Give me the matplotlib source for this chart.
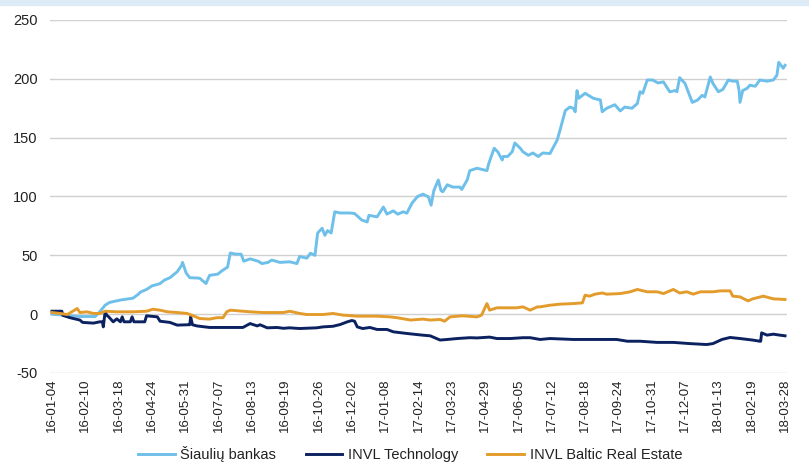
import numpy as np
import pandas as pd
import matplotlib
matplotlib.use("Agg")
import matplotlib.pyplot as plt

plt.rcParams['font.family'] = ['Liberation Sans', 'DejaVu Sans']
plt.rcParams['axes.unicode_minus'] = False

start_date = "2016-01-04"

# Šiaulių bankas: (day offset from start, % change)
sab_days = [0, 31, 48, 53, 59, 64, 76, 90, 96, 98, 105, 111, 120, 125, 131, 139, 144, 145, 149, 153,
            164, 171, 175, 184, 189, 195, 198, 204, 210, 213, 220, 229, 233, 240, 244, 253, 264, 272, 275, 283,
            287, 292, 295, 300, 303, 306, 310, 314, 320, 331, 336, 340, 344, 350, 352, 361, 368, 372, 379, 384,
            390, 394, 400, 406, 412, 418, 421, 424, 429, 432, 434, 439, 445, 453, 455, 461, 464, 472, 483, 485,
            491, 495, 500, 501, 506, 511, 514, 520, 523, 529, 534, 540, 545, 553, 561, 564, 570, 575, 579, 581,
            583, 585, 592, 601, 609, 611, 616, 625, 631, 636, 644, 650, 653, 656, 661, 667, 673, 679, 686, 692,
            694, 697, 703, 711, 717, 722, 725, 731, 734, 740, 745, 751, 756, 761, 763, 764, 767, 772, 775, 781,
            786, 794, 801, 805, 807, 812, 814]
sab_vals = [0, -2, -2, 2, 7.6, 10, 12, 13.6, 17, 18.7, 21, 24, 26, 29, 31, 36, 41.6, 44, 35, 31,
            30.6, 26, 33, 34, 37, 40, 52, 51, 51, 45, 47, 45, 43, 44, 46, 44, 44.5, 43, 49, 47.6,
            51.8, 50, 69, 73, 67, 71, 69, 87, 86, 86, 85.5, 82.7, 80, 78.4, 84, 82.7, 91, 85, 87.8, 85,
            87, 85.8, 94.6, 100, 102, 99.7, 92.6, 105, 114, 105, 104, 110, 108, 108, 106, 114, 122, 124, 122, 128,
            141, 138, 131, 134, 134, 138, 145.5, 141, 138, 135, 137, 134, 137, 136.5, 148, 156, 173, 176, 175, 172,
            190, 183.5, 187.7, 183.5, 182, 172, 175, 178, 172.7, 176, 175, 179, 189, 187.7, 199, 199, 196.5, 197.4, 189, 190,
            189, 201, 196, 180, 182, 186, 184.6, 201.6, 196, 189, 191, 199, 198, 198, 190, 180, 190, 192, 194.6, 193.7,
            199, 198, 199, 203, 214, 209, 211.5]

# INVL Technology
tech_days = [0, 11, 12, 20, 31, 34, 46, 53, 56, 57, 59, 61, 63, 68, 72, 76, 78, 80, 87, 89,
             91, 103, 105, 117, 120, 131, 139, 151, 153, 154, 156, 161, 175, 212, 220, 228, 231, 239, 250, 257,
             264, 275, 294, 301, 312, 320, 328, 333, 336, 339, 345, 353, 361, 372, 379, 394, 411, 420, 431, 439,
             450, 464, 472, 486, 494, 509, 523, 531, 542, 553, 579, 594, 627, 639, 653, 672, 690, 708, 727, 734,
             744, 753, 764, 778, 786, 787, 788, 794, 801, 808, 814]
tech_vals = [2.5, 2.5, -1, -3, -5, -7, -7.6, -6.5, -6.5, -10.8, 2, -1, -2.3, -6.5, -4, -6.5, -2.3, -6.5, -6.5, -2.3,
             -6.5, -6.5, -1.4, -2.3, -6, -7, -9.3, -9, -9, -2.3, -9, -10, -11.3, -11.3, -8, -10, -9, -11.6, -11.3, -12,
             -11.6, -12.2, -11.6, -10.8, -10.3, -8.8, -6.5, -5.4, -6, -10.8, -12.2, -11.3, -13, -13, -15, -16.4, -17.8, -18.4, -22, -21.5,
             -20.7, -20, -20.2, -19.5, -20.7, -20.7, -20, -20, -21.5, -20.7, -21.5, -21.5, -21.5, -23, -23, -24, -24, -25, -25.8, -25,
             -21.5, -19.8, -20.7, -22, -23, -23, -15.9, -17.8, -17, -17.8, -18.4]

# INVL Baltic Real Estate
bre_days = [0, 9, 17, 22, 28, 31, 39, 46, 53, 59, 72, 90, 105, 112, 120, 128, 139, 150, 157, 164,
            175, 183, 190, 194, 198, 212, 220, 234, 257, 264, 275, 283, 301, 312, 323, 339, 361, 375, 383, 398,
            412, 420, 431, 436, 442, 456, 472, 477, 483, 486, 494, 516, 523, 531, 539, 542, 553, 564, 579, 589,
            592, 597, 603, 611, 616, 631, 642, 650, 661, 672, 679, 690, 697, 705, 712, 720, 734, 742, 753, 756,
            764, 773, 778, 790, 801, 814]
bre_vals = [1.4, 0.6, -0.3, 2, 4.8, 1.4, 2, 0.6, 0.6, 2.5, 2, 2, 2.5, 4.2, 3.4, 2, 1.4, 0.6, -1.4, -3.7,
            -4.2, -3, -3, 2, 3.4, 2.5, 2, 1.4, 1.4, 2.5, 0.6, -0.3, -0.3, 0.6, -0.8, -1.7, -1.7, -2.3, -3, -5,
            -4.2, -5, -4.5, -6, -2.3, -1.4, -2.3, -0.8, 9, 3.4, 5.4, 5.4, 6.2, 3.4, 6.2, 6.2, 7.6, 8.5, 9, 9.6,
            16.1, 15.3, 17, 18, 17, 17.5, 19, 21, 19, 19, 17.5, 21, 18, 19, 17, 19, 19, 19.8, 19.8, 15.3,
            14.7, 11.3, 13, 15.3, 13, 12.5]

series_names = ["Šiaulių bankas", "INVL Technology", "INVL Baltic Real Estate"]
series_colors = ["#6EC0EA", "#0B2160", "#E39C2C"]

y_ticks = [-50, 0, 50, 100, 150, 200, 250]
tick_step_days = 37
n_ticks = 23

t0 = pd.Timestamp(start_date)
def to_dates(days):
    return [t0 + pd.Timedelta(days=d) for d in days]

fig = plt.figure(figsize=(8.09, 4.66), dpi=100)
fig.patches.append(plt.Rectangle((0, 1 - 5 / 466), 1, 5 / 466, transform=fig.transFigure,
                                 color="#DDEBF7", zorder=0))
ax = fig.add_axes([50 / 809, 1 - 373 / 466, 737 / 809, 353 / 466])

lines = []
for days, vals, name, col in [(sab_days, sab_vals, series_names[0], series_colors[0]),
                              (tech_days, tech_vals, series_names[1], series_colors[1]),
                              (bre_days, bre_vals, series_names[2], series_colors[2])]:
    ln, = ax.plot(to_dates(days), vals, color=col, lw=2.1, label=name, solid_joinstyle='round')
    lines.append(ln)

ax.set_ylim(-50, 250)
ax.set_yticks(y_ticks)
ax.set_xlim(t0 - pd.Timedelta(days=2.2), t0 + pd.Timedelta(days=816.2))
xt = [t0 + pd.Timedelta(days=tick_step_days * i) for i in range(n_ticks)]
ax.set_xticks(xt)
ax.set_xticklabels([d.strftime("%y-%m-%d") for d in xt], rotation=90, ha='center', va='top')

ax.grid(axis='y', color='#D0D0D0', lw=1.0)
ax.set_axisbelow(True)
for s in ax.spines.values():
    s.set_visible(False)
ax.tick_params(axis='both', length=0, colors='#222222')
ax.tick_params(axis='y', pad=9, labelsize=10.5)
ax.tick_params(axis='x', pad=4, labelsize=9.5)

fig.legend(handles=lines, loc='lower center', bbox_to_anchor=(0.507, -0.02), ncol=3, frameon=False,
           fontsize=10.5, handlelength=2.5, handletextpad=0.4, columnspacing=2.0, labelcolor='#222222')

fig.savefig("out.png", dpi=100)
